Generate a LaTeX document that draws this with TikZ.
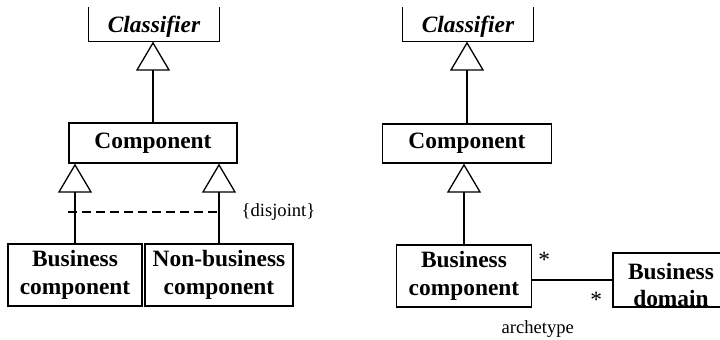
\documentclass[tikz,border=0pt]{standalone}
\usepackage{fontspec}
\setmainfont{Liberation Serif}
\usetikzlibrary{arrows.meta,calc}

\tikzset{
	umlbox/.style={draw, line width=0.65pt, inner sep=0pt, align=center,
		font=\fontsize{11.7}{14}\selectfont\bfseries},
	classname/.style={inner sep=0pt, minimum width=65pt, minimum height=16.5pt,
		text height=8pt, text depth=0pt,
		font=\fontsize{11.7}{14}\selectfont\bfseries\itshape},
	gen/.style={-{Triangle[open,length=14.5pt,width=17pt]}},
	note/.style={inner sep=0pt, font=\fontsize{9.3}{11}\selectfont},
	mult/.style={inner sep=0pt, font=\fontsize{11.7}{14}\selectfont},
}

\begin{document}
\begin{tikzpicture}[x=0.5pt,y=-0.5pt,line width=0.65pt]
	\useasboundingbox (0,0) rectangle (720,340);

	%left: classes
	\node[classname] (clsL) at (154,24.5) {Classifier};
		\draw (clsL.north west)--(clsL.south west)--(clsL.south east)--(clsL.north east);	%open top
	\node[umlbox, minimum width=84pt, minimum height=20pt] (compL) at (153,143) {Component};
	\node[umlbox, minimum width=67pt, minimum height=31pt] (bcL) at (75,275) {Business\\component};
	\node[umlbox, minimum width=74pt, minimum height=31pt] (nbL) at (219,275) {Non-business\\component};

	%left: generalizations
	\draw[gen] (compL.north) -- (compL.north |- clsL.south);
	\draw[gen] (bcL.north) -- (bcL.north |- compL.south);
	\draw[gen] (nbL.north) -- (nbL.north |- compL.south);
		\coordinate (djL) at (68,212);
		\draw[dashed, dash pattern=on 4.5pt off 2.5pt] (djL) -- (djL -| nbL.north)
			node[note, anchor=west, xshift=11pt] (dj) {\{disjoint\}};

	%right: classes
	\node[classname] (clsR) at (468,24.5) {Classifier};
		\draw (clsR.north west)--(clsR.south west)--(clsR.south east)--(clsR.north east);	%open top
	\node[umlbox, minimum width=84.5pt, minimum height=19.5pt] (compR) at (467,143.5) {Component};
	\node[umlbox, minimum width=67.5pt, minimum height=31pt] (bcR) at (464,276) {Business\\component};
	\node[umlbox, minimum width=58pt, minimum height=27pt,
		label={[font=\fontsize{11.7}{13.5}\selectfont\bfseries, align=center, yshift=-2.5pt]center:Business\\domain}]
		(bdR) at (671,280) {};

	%right: generalization and association
	\draw[gen] (compR.north) -- (compR.north |- clsR.south);
	\draw[gen] (bcR.north) -- (bcR.north |- compR.south);
	\draw (bdR.west -| bcR.east) --
		node[mult, pos=0, xshift=6pt, yshift=10pt] (m1) {*}
		node[mult, pos=1, xshift=-8pt, yshift=-10pt] (m2) {*}
		node[note, pos=0.07, yshift=-24.5pt] (arch) {archetype}
		(bdR.west);
\end{tikzpicture}
\end{document}
